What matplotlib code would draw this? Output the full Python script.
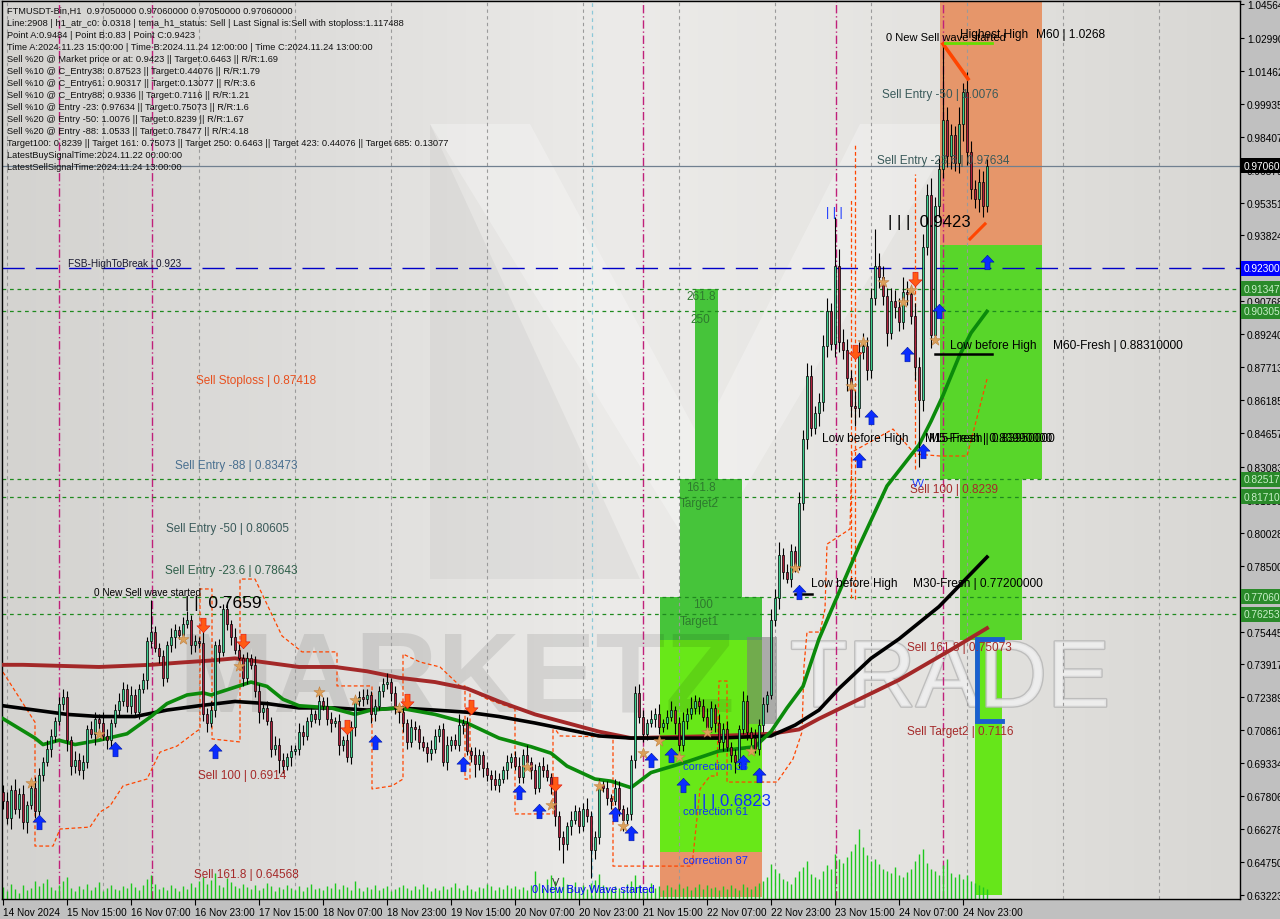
import numpy as np
import matplotlib.pyplot as plt
from matplotlib.patches import Rectangle, Polygon
from matplotlib.path import Path
from matplotlib.colors import LinearSegmentedColormap
import matplotlib.patheffects as pe

plt.rcParams['font.family'] = ['Liberation Sans', 'DejaVu Sans']

# ---- price data (H1 candles) ----
first_open = 0.680
closes = [
    0.676, 0.668, 0.681, 0.672, 0.679, 0.666, 0.674, 0.682, 0.671, 0.688,
    0.694, 0.700, 0.706, 0.713, 0.721, 0.724, 0.704, 0.692, 0.695, 0.690,
    0.694, 0.709, 0.707, 0.714, 0.712, 0.706, 0.704, 0.712, 0.718, 0.722,
    0.728, 0.720, 0.725, 0.717, 0.728, 0.732, 0.750, 0.754, 0.747, 0.743,
    0.733, 0.748, 0.752, 0.755, 0.753, 0.758, 0.760, 0.748, 0.750, 0.749,
    0.716, 0.712, 0.718, 0.748, 0.745, 0.765, 0.758, 0.752, 0.746, 0.742,
    0.733, 0.742, 0.739, 0.727, 0.717, 0.719, 0.713, 0.700, 0.702, 0.695,
    0.692, 0.696, 0.699, 0.700, 0.708, 0.706, 0.713, 0.716, 0.714, 0.722,
    0.720, 0.714, 0.712, 0.713, 0.702, 0.704, 0.696, 0.710, 0.722, 0.724,
    0.723, 0.725, 0.716, 0.720, 0.727, 0.730, 0.731, 0.726, 0.719, 0.717,
    0.712, 0.703, 0.710, 0.709, 0.703, 0.701, 0.698, 0.700, 0.706, 0.709,
    0.694, 0.702, 0.704, 0.702, 0.711, 0.712, 0.699, 0.697, 0.693, 0.697,
    0.691, 0.688, 0.686, 0.683, 0.686, 0.690, 0.694, 0.696, 0.692, 0.687,
    0.697, 0.694, 0.690, 0.682, 0.692, 0.690, 0.687, 0.683, 0.669, 0.659,
    0.656, 0.664, 0.667, 0.671, 0.664, 0.672, 0.669, 0.653, 0.659, 0.683,
    0.682, 0.677, 0.676, 0.682, 0.672, 0.667, 0.670, 0.695, 0.726, 0.715,
    0.707, 0.712, 0.714, 0.716, 0.710, 0.712, 0.715, 0.718, 0.712, 0.702,
    0.713, 0.716, 0.719, 0.722, 0.720, 0.715, 0.710, 0.719, 0.712, 0.703,
    0.709, 0.701, 0.697, 0.694, 0.709, 0.722, 0.708, 0.705, 0.700, 0.711,
    0.721, 0.725, 0.760, 0.770, 0.790, 0.782, 0.779, 0.792, 0.785, 0.814,
    0.844, 0.873, 0.849, 0.856, 0.861, 0.887, 0.903, 0.888, 0.924, 0.889,
    0.885, 0.872, 0.859, 0.858, 0.884, 0.887, 0.876, 0.909, 0.924, 0.919,
    0.910, 0.893, 0.908, 0.905, 0.898, 0.912, 0.911, 0.901, 0.877, 0.862,
    0.933, 0.957, 0.892, 0.952, 0.969, 0.992, 0.975, 0.985, 0.972, 0.990,
    1.005, 0.977, 0.960, 0.955, 0.963, 0.952, 0.9706,
]
# wick lengths above / below the body, in 0.001
up_wick = [
    3, 4, 2, 5, 3, 4, 2, 3, 5, 3, 2, 4, 3, 2, 3, 4, 3, 2, 4, 3,
    3, 2, 4, 3, 2, 5, 3, 2, 3, 4, 3, 2, 4, 3, 2, 3, 2, 15, 3, 2,
    3, 2, 4, 3, 2, 3, 4, 2, 3, 2, 6, 3, 4, 2, 3, 2, 3, 2, 4, 3,
    2, 3, 2, 4, 3, 2, 3, 2, 4, 3, 3, 2, 3, 2, 4, 3, 2, 3, 2, 3,
    2, 4, 3, 2, 3, 2, 4, 3, 2, 3, 4, 3, 2, 3, 2, 3, 4, 2, 3, 2,
    3, 2, 4, 3, 2, 3, 2, 4, 3, 2, 3, 4, 2, 3, 5, 2, 3, 2, 4, 3,
    2, 3, 2, 4, 3, 2, 3, 2, 3, 4, 3, 5, 2, 3, 2, 4, 3, 2, 3, 2,
    3, 2, 4, 3, 2, 3, 5, 2, 3, 3, 2, 3, 2, 4, 3, 2, 3, 2, 3, 4,
    3, 2, 4, 3, 5, 2, 3, 4, 2, 3, 4, 3, 5, 3, 2, 3, 4, 3, 2, 4,
    3, 4, 2, 3, 2, 5, 3, 2, 4, 3, 3, 2, 5, 4, 6, 3, 4, 3, 2, 5,
    4, 6, 5, 3, 4, 5, 6, 4, 23, 8, 6, 5, 4, 7, 5, 6, 4, 5, 17, 6,
    5, 4, 6, 5, 4, 7, 5, 4, 6, 5, 6, 5, 8, 4, 5, 35, 6, 5, 4, 8,
    4, 9, 5, 4, 6, 5, 3,
]
dn_wick = [
    4, 3, 5, 2, 4, 3, 5, 2, 3, 4, 3, 2, 4, 3, 2, 3, 5, 4, 3, 2,
    4, 3, 2, 5, 3, 2, 4, 3, 2, 3, 2, 3, 4, 2, 3, 2, 4, 3, 2, 3,
    4, 2, 3, 5, 2, 3, 2, 4, 3, 2, 3, 4, 2, 3, 5, 2, 3, 4, 2, 3,
    4, 3, 2, 3, 5, 3, 2, 4, 3, 6, 3, 2, 4, 2, 3, 4, 2, 3, 2, 3,
    2, 3, 4, 2, 5, 3, 2, 3, 4, 2, 3, 2, 4, 3, 2, 3, 2, 4, 3, 5,
    4, 3, 2, 5, 3, 2, 4, 3, 2, 3, 2, 4, 3, 2, 3, 4, 2, 3, 6, 3,
    4, 3, 5, 2, 3, 2, 4, 3, 2, 3, 3, 2, 4, 3, 2, 3, 2, 4, 5, 6,
    9, 3, 4, 2, 3, 2, 3, 13, 4, 3, 2, 3, 4, 2, 3, 5, 2, 3, 4, 3,
    4, 3, 2, 4, 3, 2, 3, 2, 5, 3, 3, 4, 2, 3, 4, 2, 3, 2, 4, 3,
    4, 2, 3, 5, 3, 2, 4, 3, 2, 3, 3, 4, 2, 3, 5, 3, 2, 4, 3, 2,
    3, 5, 4, 3, 6, 4, 5, 3, 6, 5, 4, 6, 5, 8, 4, 3, 5, 4, 3, 5,
    4, 6, 3, 5, 4, 3, 5, 4, 6, 31, 5, 4, 6, 3, 5, 4, 5, 6, 4, 5,
    8, 6, 5, 4, 6, 5, 3,
]
volumes = [
    12, 8, 15, 10, 6, 14, 9, 11, 18, 13, 16, 20, 12, 9, 14, 18, 22, 11, 8, 13,
    10, 15, 9, 12, 17, 8, 11, 14, 10, 9, 13, 11, 16, 12, 9, 14, 20, 24, 15, 10,
    12, 9, 14, 11, 8, 13, 10, 16, 12, 18, 22, 15, 19, 26, 14, 12, 21, 17, 13, 11,
    15, 12, 10, 14, 9, 11, 16, 13, 8, 12, 10, 14, 11, 9, 13, 8, 12, 15, 10, 11,
    9, 13, 11, 16, 10, 14, 12, 9, 18, 11, 8, 12, 10, 14, 9, 11, 13, 8, 10, 12,
    14, 11, 9, 13, 10, 15, 12, 8, 11, 9, 13, 10, 12, 16, 11, 9, 14, 10, 8, 12,
    11, 15, 13, 9, 12, 10, 14, 11, 13, 10, 12, 9, 14, 28, 16, 11, 20, 24, 18, 13,
    22, 15, 12, 17, 11, 14, 10, 16, 19, 25, 14, 12, 10, 13, 11, 9, 15, 18, 24, 14,
    12, 10, 16, 11, 13, 9, 14, 12, 10, 15, 11, 13, 9, 12, 15, 10, 14, 11, 12, 9,
    13, 10, 14, 11, 9, 15, 12, 10, 13, 16, 18, 22, 35, 30, 26, 20, 18, 15, 22, 28,
    32, 38, 25, 22, 20, 28, 34, 30, 45, 40, 36, 42, 48, 55, 70, 52, 44, 38, 40, 35,
    30, 28, 26, 32, 24, 22, 27, 30, 38, 45, 50, 36, 30, 28, 24, 34, 40, 26, 22, 25,
    20, 24, 18, 16, 14, 12, 10,
]

# moving averages (bar index, price) knots
ma_green_bar = [0, 8, 10, 14, 18, 24, 31, 37, 41, 46, 50, 52, 57, 62, 66, 70, 74, 82, 88, 92, 99, 108,
                116, 124, 132, 137, 141, 148, 152, 157, 162, 171, 179, 188, 192, 196, 200, 204, 207,
                214, 221, 229, 232, 235, 239, 242, 246]
ma_green = [0.714, 0.705, 0.702, 0.704, 0.702, 0.704, 0.707, 0.715, 0.721, 0.725, 0.726, 0.725, 0.728,
            0.731, 0.729, 0.723, 0.720, 0.719, 0.716, 0.718, 0.719, 0.716, 0.712, 0.705, 0.701, 0.698,
            0.692, 0.686, 0.685, 0.682, 0.689, 0.694, 0.699, 0.701, 0.708, 0.719, 0.729, 0.751, 0.764,
            0.794, 0.822, 0.841, 0.852, 0.864, 0.882, 0.893, 0.903]
ma_black_bar = [0, 8, 16, 24, 33, 41, 49, 58, 66, 74, 83, 91, 99, 108, 116, 124, 133, 141, 149, 157,
                179, 192, 198, 204, 209, 217, 224, 234, 246]
ma_black = [0.720, 0.718, 0.716, 0.715, 0.715, 0.718, 0.720, 0.722, 0.721, 0.719, 0.719, 0.718, 0.719,
            0.718, 0.717, 0.715, 0.712, 0.709, 0.706, 0.705, 0.705, 0.706, 0.711, 0.718, 0.728, 0.742,
            0.751, 0.766, 0.789]
ma_red_bar = [0, 5, 24, 37, 44, 52, 58, 66, 74, 83, 91, 99, 108, 116, 124, 133, 141, 149, 157, 179,
              192, 199, 204, 214, 224, 237, 246]
ma_red = [0.739, 0.739, 0.738, 0.739, 0.740, 0.741, 0.742, 0.740, 0.738, 0.738, 0.736, 0.733, 0.731,
          0.728, 0.722, 0.716, 0.712, 0.708, 0.705, 0.706, 0.707, 0.709, 0.714, 0.723, 0.732, 0.746, 0.756]

# trailing stop (orange dashed)
trail_bar = [0, 7.5, 8, 8, 12.5, 14.25, 21.75, 24.25, 26.75, 30, 36, 39.25, 43.5, 48.5, 49.25, 49.25,
             52.25, 52.25, 59.25, 59.25, 63, 69.75, 74.75, 83.5, 83.5, 92.25, 92.25, 97.25, 100, 100,
             104.25, 109.25, 114.25, 115.5, 115.5, 116.75, 116.75, 121, 128, 128, 137.5, 137.5, 139.25,
             152.5, 152.5, 172.25, 174.25, 176.75, 178.5, 179, 181, 181, 193.5, 197.5, 199.75, 200.25,
             201, 204.25, 205.5, 206, 211.75, 212.25, 222.5, 228, 234.25, 241, 246]
trail_price = [0.7356, 0.7138, 0.7124, 0.6549, 0.6549, 0.6628, 0.6637, 0.6707, 0.6735, 0.6828, 0.6860,
               0.6985, 0.7013, 0.7083, 0.7092, 0.7742, 0.7742, 0.7046, 0.7032, 0.7788, 0.7788, 0.7524,
               0.7450, 0.7450, 0.7292, 0.7292, 0.6814, 0.6828, 0.6860, 0.7440, 0.7403, 0.7380, 0.7292,
               0.7292, 0.6860, 0.6860, 0.7277, 0.7231, 0.7185, 0.6698, 0.6698, 0.7106, 0.7060, 0.7055,
               0.6456, 0.6456, 0.6814, 0.6874, 0.6874, 0.7315, 0.7315, 0.6846, 0.6846, 0.6953, 0.7078,
               0.7384, 0.7542, 0.7542, 0.7649, 0.7950, 0.8020, 0.8377, 0.8484, 0.8368, 0.8359, 0.8359,
               0.8716]
spike_bar = [212, 213, 228]
spike_top = [0.955, 0.9807, 0.9668]
spike_bottom = [0.770, 0.7695, 0.8299]

# signals
buy_bar = [9, 28, 53, 93, 115, 129, 134, 153, 157, 162, 167, 170, 185, 189, 199, 214, 217, 226, 234, 230, 246]
buy_price = [0.666, 0.700, 0.699, 0.703, 0.693, 0.680, 0.671, 0.670, 0.661, 0.695, 0.697, 0.683, 0.694,
             0.688, 0.773, 0.834, 0.854, 0.883, 0.903, 0.838, 0.926]
sell_bar = [50, 60, 86, 101, 117, 138, 213, 228]
sell_price = [0.7575, 0.7501, 0.7102, 0.7222, 0.7194, 0.6837, 0.8842, 0.9181]
star_bar = [7, 24, 45, 59, 79, 88, 99, 131, 137, 149, 155, 160, 164, 169, 176, 187, 198, 212, 215, 220, 225, 227, 233]
star_price = [0.6842, 0.7069, 0.7510, 0.7385, 0.7264, 0.7227, 0.7190, 0.6916, 0.6740, 0.6828, 0.6642,
              0.6981, 0.7036, 0.6962, 0.7078, 0.6990, 0.7839, 0.8684, 0.8888, 0.9166, 0.9074, 0.9129, 0.8897]

# levels
fsb_level = 0.923
last_price = 0.9706
dotted_levels = [0.91347, 0.90305, 0.82517, 0.81710, 0.77060, 0.76253]
separator_bars = [14, 37.25, 160, 208.25, 235]

# target zones: bar start, bar end, price low, price high
zone_b0 = [234.25, 234.25, 239.25, 243.0, 173.0, 169.25, 164.25, 164.25, 164.25]
zone_b1 = [259.75, 259.75, 254.75, 249.75, 178.75, 184.75, 189.75, 189.75, 189.75]
zone_lo = [0.9336, 0.82517, 0.75073, 0.632, 0.82517, 0.7706, 0.7506, 0.6523, 0.6313]
zone_hi = [1.06, 0.9336, 0.82517, 0.75073, 0.91347, 0.82517, 0.7706, 0.7506, 0.6523]
zone_colors = ['#e6966a', '#58d62a', '#58d62a', '#66e61a', '#46c43a', '#46c43a', '#46c43a', '#68e818', '#e8946a']

zig1_bar, zig1_price = [235, 241.25], [1.0271, 1.0109]
zig2_bar, zig2_price = [241.75, 245.5], [0.9366, 0.9436]
hh_bar, hh_price = [235.5, 247.25], [1.0276, 1.0276]
lbh60_bar, lbh60_price = [233, 247.25], [0.8831, 0.8831]
lbh30_bar, lbh30_price = [198, 202.25], [0.7720, 0.7720]
bracket_bar = [249.75, 243.5, 243.5, 249.75]
bracket_price = [0.7510, 0.7510, 0.7129, 0.7129]

# axis labels
date_ticks = list(range(0, 241, 16))
date_labels = ['14 Nov 2024', '15 Nov 15:00', '16 Nov 07:00', '16 Nov 23:00', '17 Nov 15:00',
               '18 Nov 07:00', '18 Nov 23:00', '19 Nov 15:00', '20 Nov 07:00', '20 Nov 23:00',
               '21 Nov 15:00', '22 Nov 07:00', '22 Nov 23:00', '23 Nov 15:00', '24 Nov 07:00',
               '24 Nov 23:00']
price_ticks = [1.04564, 1.02990, 1.01462, 0.99935, 0.98407, 0.96879, 0.95351, 0.93824, 0.92296,
               0.90768, 0.89240, 0.87713, 0.86185, 0.84657, 0.83083, 0.81555, 0.80028, 0.78500,
               0.76972, 0.75445, 0.73917, 0.72389, 0.70861, 0.69334, 0.67806, 0.66278, 0.64750, 0.63223]
boxed_prices = [0.97060, 0.92300, 0.91347, 0.90305, 0.82517, 0.81710, 0.77060, 0.76253]
boxed_bg = ['#000000', '#0000ff', '#2a8a2a', '#2a8a2a', '#2a8a2a', '#2a8a2a', '#2a8a2a', '#2a8a2a']
boxed_fg = ['#ffffff', '#ffffff', '#c8f0c8', '#c8f0c8', '#c8f0c8', '#c8f0c8', '#c8f0c8', '#c8f0c8']

info_lines = [
    'FTMUSDT-Bin,H1  0.97050000 0.97060000 0.97050000 0.97060000',
    'Line:2908 | h1_atr_c0: 0.0318 | tema_h1_status: Sell | Last Signal is:Sell with stoploss:1.117488',
    'Point A:0.9484 | Point B:0.83 | Point C:0.9423',
    'Time A:2024.11.23 15:00:00 | Time B:2024.11.24 12:00:00 | Time C:2024.11.24 13:00:00',
    'Sell %20 @ Market price or at: 0.9423 || Target:0.6463 || R/R:1.69',
    'Sell %10 @ C_Entry38: 0.87523 || Target:0.44076 || R/R:1.79',
    'Sell %10 @ C_Entry61: 0.90317 || Target:0.13077 || R/R:3.6',
    'Sell %10 @ C_Entry88: 0.9336 || Target:0.7116 || R/R:1.21',
    'Sell %10 @ Entry -23: 0.97634 || Target:0.75073 || R/R:1.6',
    'Sell %20 @ Entry -50: 1.0076 || Target:0.8239 || R/R:1.67',
    'Sell %20 @ Entry -88: 1.0533 || Target:0.78477 || R/R:4.18',
    'Target100: 0.8239 || Target 161: 0.75073 || Target 250: 0.6463 || Target 423: 0.44076 || Target 685: 0.13077',
    'LatestBuySignalTime:2024.11.22 00:00:00',
    'LatestSellSignalTime:2024.11.24 13:00:00',
]

W, H = 1280, 920
fig = plt.figure(figsize=(W / 100, H / 100), dpi=100, facecolor='#c0c0c0')
ax = fig.add_axes([2 / W, 20 / H, 1238 / W, 898 / H])
ax.set_xlim(-0.25, 309.25)
ax.set_ylim(0.63033, 1.04703)


def fig_xy(px, py):
    return px / W, 1 - py / H


tf = fig.transFigure

# background
bg = LinearSegmentedColormap.from_list('bg', ['#d4d3d0', '#dedddb', '#ecebe9', '#e4e3e0', '#d8d7d4'])
ax.imshow(np.linspace(0, 1, 256)[None, :], cmap=bg, extent=[0, 1, 0, 1], transform=ax.transAxes,
          aspect='auto', zorder=0)
logo = [[(430, 125), (530, 125), (700, 440), (700, 565)], [(700, 565), (700, 440), (860, 125), (960, 125)]]
for poly in logo:
    ax.add_patch(Polygon([fig_xy(*p) for p in poly], closed=True, transform=tf, fc='white',
                         alpha=0.28, ec='none', zorder=0.5))
ax.add_patch(Polygon([fig_xy(*p) for p in [(430, 125), (430, 580), (640, 580)]], closed=True,
                     transform=tf, fc='black', alpha=0.04, ec='none', zorder=0.5))

# zones
for b0, b1, lo, hi, c in zip(zone_b0, zone_b1, zone_lo, zone_hi, zone_colors):
    ax.add_patch(Rectangle((b0, lo), b1 - b0, hi - lo, fc=c, ec='none', zorder=1))

# watermark
ax.text(*fig_xy(178, 683), 'MARKETZ', transform=tf, fontsize=82, fontweight='bold', color='black',
        alpha=0.09, va='center', ha='left', zorder=1.5)
ax.add_patch(Rectangle(fig_xy(747, 725), 30 / W, 87 / H, transform=tf, fc='#7a7a7a', alpha=0.55,
                       ec='none', zorder=1.5))
ax.text(*fig_xy(790, 683), 'TRADE', transform=tf, fontsize=68, color='#eeeeee', alpha=0.8,
        va='center', ha='left', zorder=1.5,
        path_effects=[pe.withStroke(linewidth=2, foreground='#b5b5b5')])

# grid and level lines
for b in range(1, 310, 24):
    ax.axvline(b, color='#9a9a9a', lw=0.8, dashes=(3, 3), zorder=2)
for b in separator_bars:
    ax.axvline(b, color='#c0207a', lw=1.0, dashes=(6, 2, 1, 2), zorder=2)
ax.axvline(147.25, color='#8cc8d8', lw=0.9, dashes=(3, 3), zorder=2)
for lv in dotted_levels:
    ax.axhline(lv, color='#1f8a1f', lw=0.9, dashes=(3, 3), zorder=2)
ax.axhline(fsb_level, color='#0000c8', lw=1.0, dashes=(16, 8), zorder=2)
ax.axhline(last_price, color='#708090', lw=0.9, zorder=2)

# volumes along the bottom
vb = np.arange(len(volumes))
ax.vlines(vb, 0, np.array(volumes) / 898, transform=ax.get_xaxis_transform(), color='#1ec81e',
          lw=1.0, zorder=2.2)

# moving averages and trailing stop
ax.plot(trail_bar, trail_price, color='#ff4500', lw=0.9, dashes=(3, 2), zorder=2.5)
ax.vlines(spike_bar, spike_bottom, spike_top, color='#ff4500', lw=0.9, linestyles=(0, (3, 2)), zorder=2.5)
ax.plot(ma_red_bar, ma_red, color='#a32828', lw=2.8, zorder=3)
ax.plot(ma_black_bar, ma_black, color='black', lw=2.6, zorder=3)
ax.plot(ma_green_bar, ma_green, color='#0b8a0b', lw=2.6, zorder=3)

# candles
c = np.array(closes)
n = len(c)
x = np.arange(n)
o = np.concatenate([[first_open], c[:-1]])
top = np.maximum(o, c)
bot = np.minimum(o, c)
hi = top + np.array(up_wick[:n]) / 1000
lo = bot - np.array(dn_wick[:n]) / 1000
cols = np.where(c >= o, '#3ccf8e', '#b0203c')
ax.vlines(x, lo, hi, color='black', lw=0.8, zorder=4)
ax.bar(x, np.maximum(top - bot, 0.0006), bottom=bot, width=0.62, color=cols, edgecolor='black',
       linewidth=0.5, zorder=5)

# objects
ax.plot(zig1_bar, zig1_price, color='#ff4500', lw=2.6, zorder=6)
ax.plot(zig2_bar, zig2_price, color='#ff4500', lw=2.2, zorder=6)
ax.plot(hh_bar, hh_price, color='#66dd00', lw=2.0, zorder=6)
ax.plot(lbh60_bar, lbh60_price, color='black', lw=1.8, zorder=6)
ax.plot(lbh30_bar, lbh30_price, color='black', lw=1.8, zorder=6)
ax.plot(bracket_bar, bracket_price, color='#1a5fd0', lw=3.5, zorder=6, solid_joinstyle='miter')

up_arrow = Path([(0, 1), (-0.9, 0.05), (-0.35, 0.05), (-0.35, -1), (0.35, -1), (0.35, 0.05),
                 (0.9, 0.05), (0, 1)])
dn_arrow = Path([(0, -1), (-0.9, -0.05), (-0.35, -0.05), (-0.35, 1), (0.35, 1), (0.35, -0.05),
                 (0.9, -0.05), (0, -1)])
ax.scatter(buy_bar, buy_price, marker=up_arrow, s=110, c='#0a2cff', edgecolors='#0018a0',
           linewidths=0.4, zorder=7)
ax.scatter(sell_bar, sell_price, marker=dn_arrow, s=110, c='#ff5a14', edgecolors='#e01010',
           linewidths=0.4, zorder=7)
ax.scatter(star_bar, star_price, marker='*', s=70, c='#dba05a', edgecolors='#c08040',
           linewidths=0.4, zorder=7)

# axes styling
for s in ax.spines.values():
    s.set_color('black')
    s.set_linewidth(1.0)
ax.yaxis.tick_right()
ax.set_yticks(price_ticks)
ax.set_yticklabels([f'{p:.5f}' for p in price_ticks])
ax.tick_params(axis='y', length=3, pad=2, labelsize=7.3, colors='black')
ax.set_xticks(date_ticks)
ax.set_xticklabels(date_labels, ha='left')
ax.tick_params(axis='x', length=4, pad=2, labelsize=7.2)

for p, bgc, fgc in zip(boxed_prices, boxed_bg, boxed_fg):
    ax.text(1.0 + 4 / 1238, p, f'{p:.5f}', transform=ax.get_yaxis_transform(), ha='left',
            va='center', fontsize=7.3, color=fgc, clip_on=False, zorder=10,
            bbox=dict(boxstyle='square,pad=0.25', fc=bgc, ec='none'))

# texts
for k, line in enumerate(info_lines):
    ax.text(*fig_xy(7, 11 + 12 * k), line, transform=tf, fontsize=6.65, color='#111111',
            va='center', ha='left', zorder=12, clip_on=False)

labels = [
    (68, 264, 'FSB-HighToBreak | 0.923', '#1a1a30', 7.2),
    (196, 381, 'Sell Stoploss | 0.87418', '#e8501e', 8.5),
    (175, 466, 'Sell Entry -88 | 0.83473', '#4a7090', 8.5),
    (166, 529, 'Sell Entry -50 | 0.80605', '#3a5a5a', 8.5),
    (165, 571, 'Sell Entry -23.6 | 0.78643', '#2f5f4a', 8.5),
    (94, 593, '0 New Sell wave started', '#000000', 7.2),
    (185, 604, '| |  0.7659', '#000000', 12.5),
    (198, 776, 'Sell 100 | 0.6914', '#a52a2a', 8.5),
    (194, 875, 'Sell 161.8 | 0.64568', '#a52a2a', 8.5),
    (532, 890, '0 New Buy Wave started', '#0000ff', 8),
    (683, 767, 'correction 38', '#1030ff', 8),
    (693, 802, '| | | 0.6823', '#1030ff', 12),
    (683, 812, 'correction 61', '#1030ff', 8),
    (683, 861, 'correction 87', '#1030ff', 8),
    (686, 297, '261.8', '#2e7a2e', 8.5),
    (690, 320, '250', '#2e7a2e', 8.5),
    (686, 488, '161.8', '#2e7a2e', 8.5),
    (680, 504, 'Target2', '#2e7a2e', 8.5),
    (693, 605, '100', '#2e7a2e', 8.5),
    (680, 622, 'Target1', '#2e7a2e', 8.5),
    (950, 346, 'Low before High', '#000000', 8.6),
    (1053, 346, 'M60-Fresh | 0.88310000', '#000000', 8.6),
    (822, 439, 'Low before High', '#000000', 8.6),
    (925, 439, 'M15-Fresh | 0.83950000', '#000000', 8.6),
    (929, 439, 'M5-Fresh | 0.83990000', '#000000', 8.6),
    (811, 584, 'Low before High', '#000000', 8.6),
    (913, 584, 'M30-Fresh | 0.77200000', '#000000', 8.6),
    (910, 490, 'Sell 100 | 0.8239', '#a52a2a', 8.5),
    (907, 648, 'Sell 161.8 | 0.75073', '#a52a2a', 8.5),
    (907, 732, 'Sell Target2 | 0.7116', '#a52a2a', 8.5),
    (882, 95, 'Sell Entry -50 | 1.0076', '#3a5a5a', 8.5),
    (877, 161, 'Sell Entry -23.6 | 0.97634', '#3a5a5a', 8.5),
    (888, 223, '| | |  0.9423', '#000000', 12),
    (886, 38, '0 New Sell wave started', '#000000', 8),
    (960, 35, 'Highest High', '#000000', 8.6),
    (1036, 35, 'M60 | 1.0268', '#000000', 8.6),
    (826, 213, '| | |', '#1030ff', 9),
    (912, 484, 'VV', '#1030ff', 7),
    (552, 883, 'V', '#333333', 8),
]
for px, py, s, col, fs in labels:
    ax.text(*fig_xy(px, py), s, transform=tf, fontsize=fs, color=col, va='center', ha='left',
            zorder=11, clip_on=False)

fig.savefig('out.png', dpi=100, facecolor=fig.get_facecolor())
